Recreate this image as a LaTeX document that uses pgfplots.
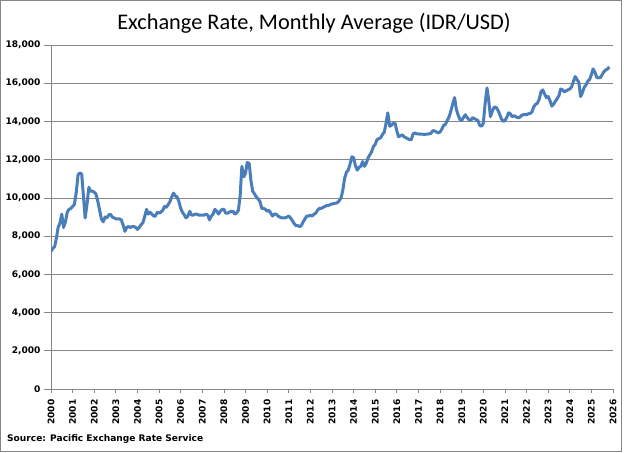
\documentclass[border=0pt]{standalone}
\usepackage{pgfplots}
\pgfplotsset{compat=1.18}
\usepackage{pgfplotstable}
\usepackage{fontspec}
\setmainfont{Carlito}
\newfontfamily\tickfont{DejaVu Sans}
\definecolor{lineblue}{RGB}{74,126,187}
\definecolor{gridc}{RGB}{134,134,134}

\pgfplotstableread{
x y
2000.00 7200
2000.08 7350
2000.17 7450
2000.25 7900
2000.33 8450
2000.42 8700
2000.50 9150
2000.58 8450
2000.67 8750
2000.75 9250
2000.83 9400
2000.92 9450
2001.00 9550
2001.08 9650
2001.17 10300
2001.25 11200
2001.33 11300
2001.42 11250
2001.50 10100
2001.58 8950
2001.67 9700
2001.75 10550
2001.83 10350
2001.92 10350
2002.00 10300
2002.08 10200
2002.17 9800
2002.25 9350
2002.33 8900
2002.42 8750
2002.50 9000
2002.58 8950
2002.67 9100
2002.75 9150
2002.83 9000
2002.92 8950
2003.00 8900
2003.08 8900
2003.17 8900
2003.25 8850
2003.33 8600
2003.42 8250
2003.50 8450
2003.58 8500
2003.67 8450
2003.75 8500
2003.83 8500
2003.92 8450
2004.00 8350
2004.08 8450
2004.17 8600
2004.25 8700
2004.33 9000
2004.42 9400
2004.50 9150
2004.58 9250
2004.67 9150
2004.75 9050
2004.83 9050
2004.92 9250
2005.00 9200
2005.08 9250
2005.17 9350
2005.25 9550
2005.33 9500
2005.42 9650
2005.50 9800
2005.58 10050
2005.67 10250
2005.75 10100
2005.83 10050
2005.92 9800
2006.00 9450
2006.08 9250
2006.17 9100
2006.25 8950
2006.33 9050
2006.42 9300
2006.50 9100
2006.58 9100
2006.67 9150
2006.75 9150
2006.83 9100
2006.92 9100
2007.00 9100
2007.08 9100
2007.17 9150
2007.25 9100
2007.33 8850
2007.42 9050
2007.50 9150
2007.58 9400
2007.67 9300
2007.75 9150
2007.83 9300
2007.92 9400
2008.00 9400
2008.08 9200
2008.17 9200
2008.25 9250
2008.33 9300
2008.42 9300
2008.50 9150
2008.58 9200
2008.67 9350
2008.75 10100
2008.83 11650
2008.92 11100
2009.00 11300
2009.08 11850
2009.17 11800
2009.25 10900
2009.33 10350
2009.42 10200
2009.50 10050
2009.58 9950
2009.67 9800
2009.75 9450
2009.83 9450
2009.92 9400
2010.00 9300
2010.08 9350
2010.17 9200
2010.25 9050
2010.33 9150
2010.42 9150
2010.50 9050
2010.58 9000
2010.67 8950
2010.75 8950
2010.83 8950
2010.92 9000
2011.00 9050
2011.08 8950
2011.17 8800
2011.25 8650
2011.33 8550
2011.42 8550
2011.50 8500
2011.58 8550
2011.67 8750
2011.75 8900
2011.83 9050
2011.92 9050
2012.00 9100
2012.08 9050
2012.17 9150
2012.25 9200
2012.33 9350
2012.42 9450
2012.50 9450
2012.58 9500
2012.67 9550
2012.75 9600
2012.83 9600
2012.92 9650
2013.00 9680
2013.08 9700
2013.17 9720
2013.25 9750
2013.33 9850
2013.42 10000
2013.50 10400
2013.58 11000
2013.67 11350
2013.75 11450
2013.83 11750
2013.92 12150
2014.00 12100
2014.08 11700
2014.17 11450
2014.25 11600
2014.33 11650
2014.42 11900
2014.50 11650
2014.58 11800
2014.67 12100
2014.75 12250
2014.83 12400
2014.92 12700
2015.00 12800
2015.08 13050
2015.17 13100
2015.25 13150
2015.33 13300
2015.42 13450
2015.50 13900
2015.58 14450
2015.67 13750
2015.75 13800
2015.83 13900
2015.92 13900
2016.00 13500
2016.08 13200
2016.17 13250
2016.25 13300
2016.33 13200
2016.42 13150
2016.50 13100
2016.58 13050
2016.67 13050
2016.75 13350
2016.83 13400
2016.92 13350
2017.00 13350
2017.08 13330
2017.17 13340
2017.25 13320
2017.33 13330
2017.42 13340
2017.50 13350
2017.58 13380
2017.67 13520
2017.75 13500
2017.83 13450
2017.92 13400
2018.00 13450
2018.08 13600
2018.17 13800
2018.25 13850
2018.33 14050
2018.42 14250
2018.50 14550
2018.58 14900
2018.67 15250
2018.75 14650
2018.83 14350
2018.92 14100
2019.00 14050
2019.08 14200
2019.17 14350
2019.25 14200
2019.33 14100
2019.42 14050
2019.50 14200
2019.58 14150
2019.67 14100
2019.75 14050
2019.83 13800
2019.92 13750
2020.00 13900
2020.08 14900
2020.17 15750
2020.25 15100
2020.33 14250
2020.42 14550
2020.50 14750
2020.58 14750
2020.67 14600
2020.75 14400
2020.83 14150
2020.92 14000
2021.00 14050
2021.08 14200
2021.17 14450
2021.25 14400
2021.33 14250
2021.42 14300
2021.50 14250
2021.58 14200
2021.67 14200
2021.75 14300
2021.83 14350
2021.92 14350
2022.00 14350
2022.08 14400
2022.17 14420
2022.25 14500
2022.33 14750
2022.42 14900
2022.50 14950
2022.58 15150
2022.67 15550
2022.75 15650
2022.83 15450
2022.92 15250
2023.00 15300
2023.08 15100
2023.17 14800
2023.25 14900
2023.33 15050
2023.42 15200
2023.50 15350
2023.58 15700
2023.67 15650
2023.75 15550
2023.83 15600
2023.92 15650
2024.00 15700
2024.08 15800
2024.17 16100
2024.25 16350
2024.33 16200
2024.42 16050
2024.50 15300
2024.58 15500
2024.67 15800
2024.75 15900
2024.83 16100
2024.92 16200
2025.00 16450
2025.08 16750
2025.17 16550
2025.25 16300
2025.33 16280
2025.42 16300
2025.50 16450
2025.58 16600
2025.67 16700
2025.75 16750
2025.83 16850
}\ratedata

\begin{document}
\begin{tikzpicture}[x=1bp,y=1bp]
\useasboundingbox (0,0) rectangle (624,453);
\draw[gridc, line width=0.75bp] (0.5,1.5) rectangle (621.5,452.5);
\node[anchor=base, inner sep=0, font=\fontsize{22.4}{26}\selectfont] at (314,423) {Exchange Rate, Monthly Average (IDR/USD)};
\node[anchor=base west, inner sep=0, font=\tickfont\bfseries\fontsize{9.1}{11}\selectfont] at (7,11) {Source: Pacific Exchange Rate Service};
\begin{axis}[
  at={(51bp,64bp)}, anchor=south west,
  scale only axis, width=562bp, height=344bp,
  xmin=2000, xmax=2026, ymin=0, ymax=18000,
  axis x line*=bottom, axis y line*=left,
  axis line style={gridc, line width=0.75bp},
  xtick={2000,2001,...,2026},
  ytick={0,2000,...,18000},
  tick align=outside,
  major tick length=7bp,
  tick style={gridc, line width=0.75bp},
  xtick style={/pgfplots/major tick length=4bp},
  ymajorgrids,
  grid style={gridc, line width=0.75bp},
  scaled y ticks=false,
  tick label style={font=\tickfont\bfseries\fontsize{9.1}{11}\selectfont},
  /pgf/number format/assume math mode=true,
  xticklabel style={rotate=90, anchor=east, /pgf/number format/1000 sep={}},
  yticklabel style={/pgf/number format/1000 sep={,}},
]
\addplot[lineblue, line width=3bp, line join=round] table[x=x,y=y] {\ratedata};
\end{axis}
\end{tikzpicture}
\end{document}
